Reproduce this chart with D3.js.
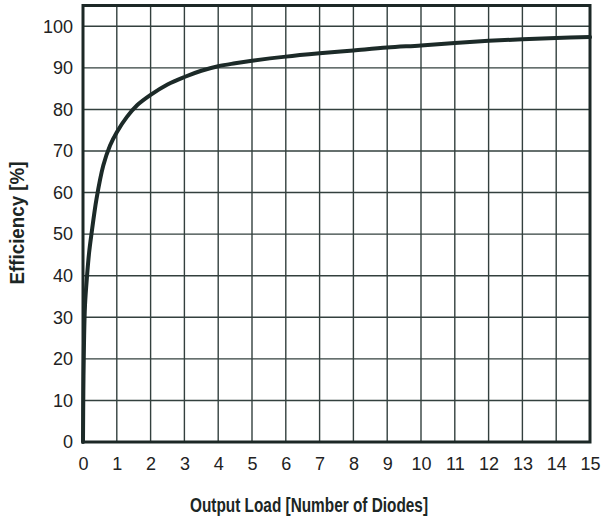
<!DOCTYPE html>
<html>
<head>
<meta charset="utf-8">
<script src="https://cdn.jsdelivr.net/npm/d3@7"></script>
<style>
  body { margin: 0; background: #fff; }
  svg { display: block; }
  .tick text { font-family: "Liberation Sans", Arial, Helvetica, sans-serif; font-size: 18px; fill: #222; }
  .title { font-family: "Liberation Sans", Arial, Helvetica, sans-serif; font-size: 21px; font-weight: bold; fill: #1c2624; }
</style>
</head>
<body>
<svg id="chart" width="604" height="522"></svg>
<script>
// load (number of diodes) vs efficiency
const loadValues = [0, 0.01, 0.03, 0.06, 0.12, 0.18, 0.25, 0.4, 0.6, 0.8, 1.0, 1.3, 1.6, 2, 2.5, 3, 3.5, 4, 4.5, 5, 6, 7, 8, 9, 10, 11, 12, 13, 14, 15];
const efficiencyValues = [0, 12, 24, 33, 40, 45.5, 50, 58.5, 66.5, 71.3, 74.5, 78.2, 81.0, 83.5, 86, 87.8, 89.3, 90.4, 91.1, 91.7, 92.7, 93.5, 94.2, 94.9, 95.4, 96.0, 96.5, 96.9, 97.2, 97.4];
const xTicks = d3.range(0, 16);
const yTicks = d3.range(0, 101, 10);

const svg = d3.select('#chart');
const margin = {top: 5.5, right: 14, bottom: 80, left: 83};
const width = 604 - margin.left - margin.right;
const height = 522 - margin.top - margin.bottom;

const g = svg.append('g').attr('transform', 'translate(' + margin.left + ',' + margin.top + ')');

const x = d3.scaleLinear().domain([0, 15]).range([0, width]);
const y = d3.scaleLinear().domain([0, 105]).range([height, 0]);

// grid
g.append('g').selectAll('line.v')
  .data(xTicks.slice(1, -1))
  .enter().append('line')
    .attr('x1', d => x(d)).attr('x2', d => x(d))
    .attr('y1', 0).attr('y2', height)
    .attr('stroke', '#33403e').attr('stroke-width', 1.4);

g.append('g').selectAll('line.h')
  .data(yTicks.slice(1))
  .enter().append('line')
    .attr('x1', 0).attr('x2', width)
    .attr('y1', d => y(d)).attr('y2', d => y(d))
    .attr('stroke', '#33403e').attr('stroke-width', 1.4);

// axes (labels only)
const xAxis = g.append('g')
  .attr('transform', 'translate(0,' + height + ')')
  .call(d3.axisBottom(x).tickValues(xTicks).tickSize(0).tickPadding(15));
xAxis.select('.domain').remove();

const yAxis = g.append('g')
  .call(d3.axisLeft(y).tickValues(yTicks).tickSize(0).tickPadding(10));
yAxis.select('.domain').remove();

// frame
g.append('rect')
  .attr('x', 0).attr('y', 0)
  .attr('width', width).attr('height', height)
  .attr('fill', 'none')
  .attr('stroke', '#1c2826')
  .attr('stroke-width', 3);

// efficiency curve
const line = d3.line()
  .x((d, i) => x(loadValues[i]))
  .y(d => y(d))
  .curve(d3.curveCatmullRom.alpha(0.5));

g.append('path')
  .datum(efficiencyValues)
  .attr('d', line)
  .attr('fill', 'none')
  .attr('stroke', '#1c2a28')
  .attr('stroke-width', 4)
  .attr('stroke-linecap', 'round');

// titles, squeezed to the narrow face of the original
svg.append('text')
  .attr('class', 'title')
  .attr('x', 309).attr('y', 512)
  .attr('text-anchor', 'middle')
  .attr('textLength', 238)
  .attr('lengthAdjust', 'spacingAndGlyphs')
  .text('Output Load [Number of Diodes]');

svg.append('text')
  .attr('class', 'title')
  .attr('transform', 'translate(24,223) rotate(-90)')
  .attr('text-anchor', 'middle')
  .attr('textLength', 123)
  .attr('lengthAdjust', 'spacingAndGlyphs')
  .text('Efficiency [%]');
</script>
</body>
</html>
